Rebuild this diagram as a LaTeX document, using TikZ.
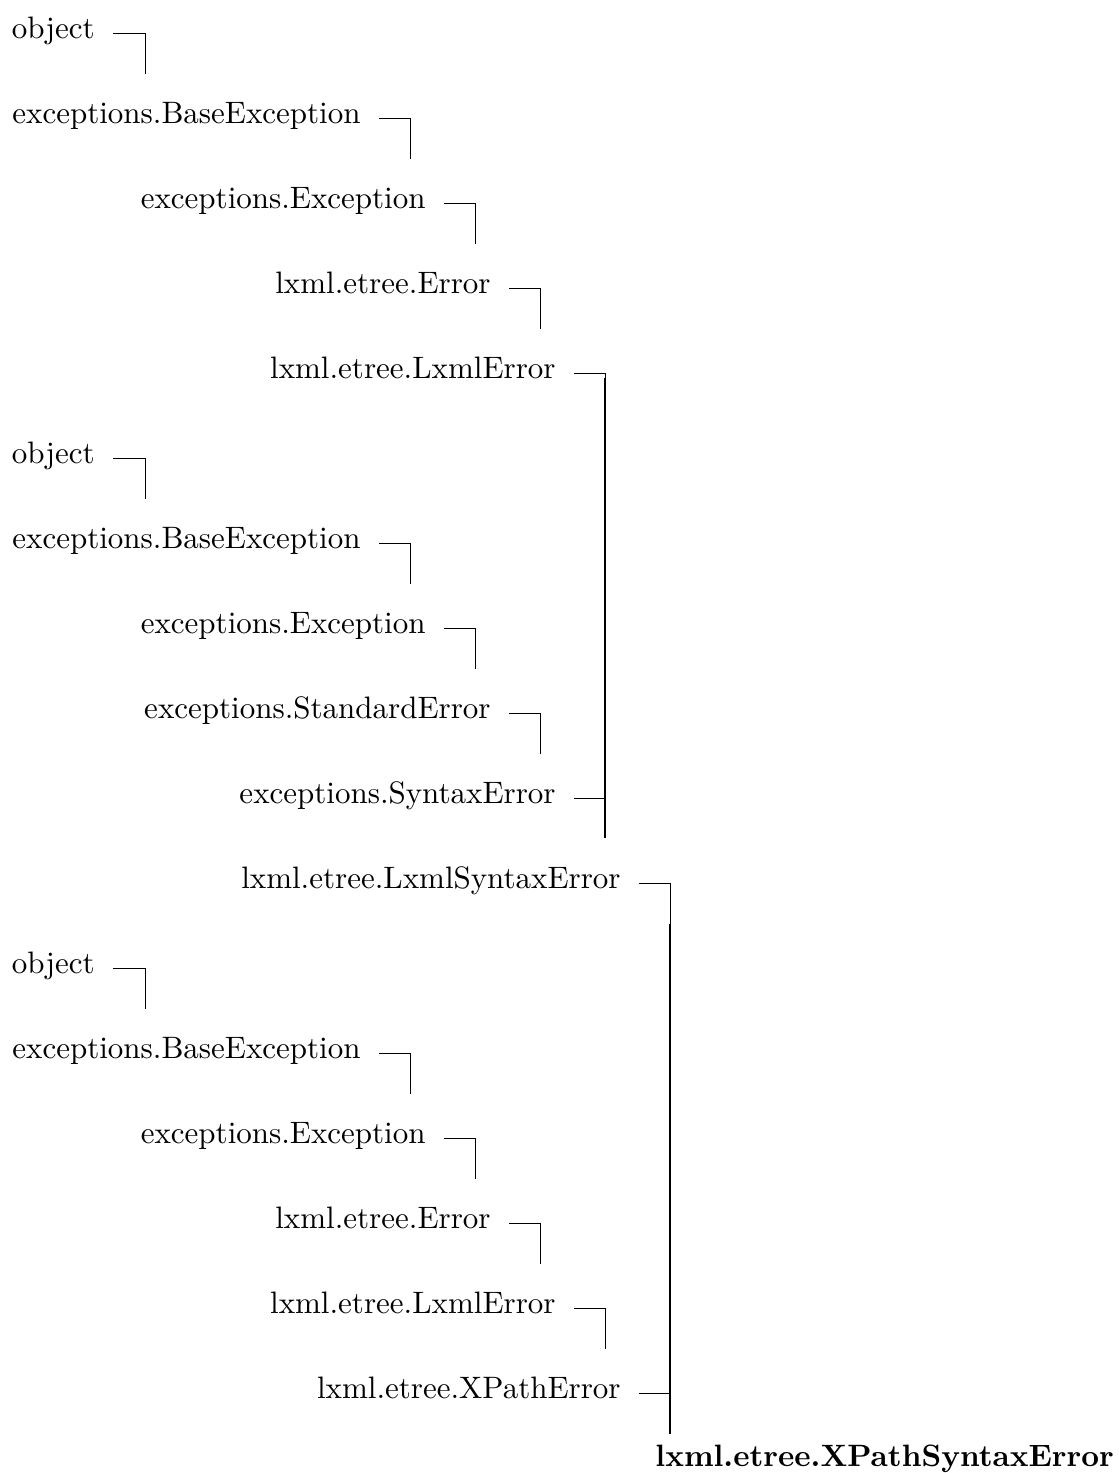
\documentclass[tikz,border=0pt]{standalone}
\usepackage{fontspec}
\newfontfamily\lmten[BoldFont=lmroman10-bold.otf]{lmroman10-regular.otf}
\usetikzlibrary{calc}
\tikzset{
  cls/.style={anchor=base east, inner sep=0pt, font=\lmten\fontsize{15.5}{18}\selectfont},
  leaf/.style={anchor=base west, inner sep=0pt, font=\lmten\fontsize{15.45}{18}\selectfont\bfseries},
  edge/.style={line width=0.5pt, line cap=butt},
  trunk/.style={line width=0.7pt}
}
\begin{document}
\begin{tikzpicture}[x=0.5pt,y=-0.5pt]
\useasboundingbox (0,0) rectangle (1119,1473);
% nodes (base east at text end, baseline 38+85i)
\node[cls] (n0)  at (95,38)   {object};
\node[cls] (n1)  at (361,123) {exceptions.BaseException};
\node[cls] (n2)  at (426,208) {exceptions.Exception};
\node[cls] (n3)  at (491,293) {lxml.etree.Error};
\node[cls] (n4)  at (556,378) {lxml.etree.LxmlError};
\node[cls] (n5)  at (95,463)  {object};
\node[cls] (n6)  at (361,548) {exceptions.BaseException};
\node[cls] (n7)  at (426,633) {exceptions.Exception};
\node[cls] (n8)  at (491,718) {exceptions.StandardError};
\node[cls] (n9)  at (556,803) {exceptions.SyntaxError};
\node[cls] (n10) at (621,888) {lxml.etree.LxmlSyntaxError};
\node[cls] (n11) at (95,973)  {object};
\node[cls] (n12) at (361,1058) {exceptions.BaseException};
\node[cls] (n13) at (426,1143) {exceptions.Exception};
\node[cls] (n14) at (491,1228) {lxml.etree.Error};
\node[cls] (n15) at (556,1313) {lxml.etree.LxmlError};
\node[cls] (n16) at (621,1398) {lxml.etree.XPathError};
\node[leaf] (n17) at (655,1466) {lxml.etree.XPathSyntaxError};
% connector end points
\coordinate (c0)  at (145,74);
\coordinate (c1)  at (410,159);
\coordinate (c2)  at (475,244);
\coordinate (c3)  at (540,329);
\coordinate (t1)  at (605,378);
\coordinate (c5)  at (145,499);
\coordinate (c6)  at (410,584);
\coordinate (c7)  at (475,669);
\coordinate (c8)  at (540,754);
\coordinate (j1)  at (605,838);
\coordinate (c10) at (670,924);
\coordinate (j2)  at (670,1434);
\coordinate (c11) at (145,1009);
\coordinate (c12) at (410,1094);
\coordinate (c13) at (475,1179);
\coordinate (c14) at (540,1264);
\coordinate (c15) at (605,1349);
% connectors
\foreach \n/\c in {n0/c0,n1/c1,n2/c2,n3/c3,n5/c5,n6/c6,n7/c7,n8/c8,n11/c11,n12/c12,n13/c13,n14/c14,n15/c15,n10/c10}{
  \draw[edge] ($(\n.base east)+(18,-5)$) -| (\c);
}
\draw[edge] ($(n4.base east)+(18,-5)$) -| (j1);
\draw[trunk] (t1) -- (j1);
\draw[edge] ($(n9.base east)+(18,-5)$) -| (j1);
\draw[trunk] (c10) -- (j2);
\draw[edge] ($(n16.base east)+(18,-5)$) -| (j2);
\end{tikzpicture}
\end{document}
